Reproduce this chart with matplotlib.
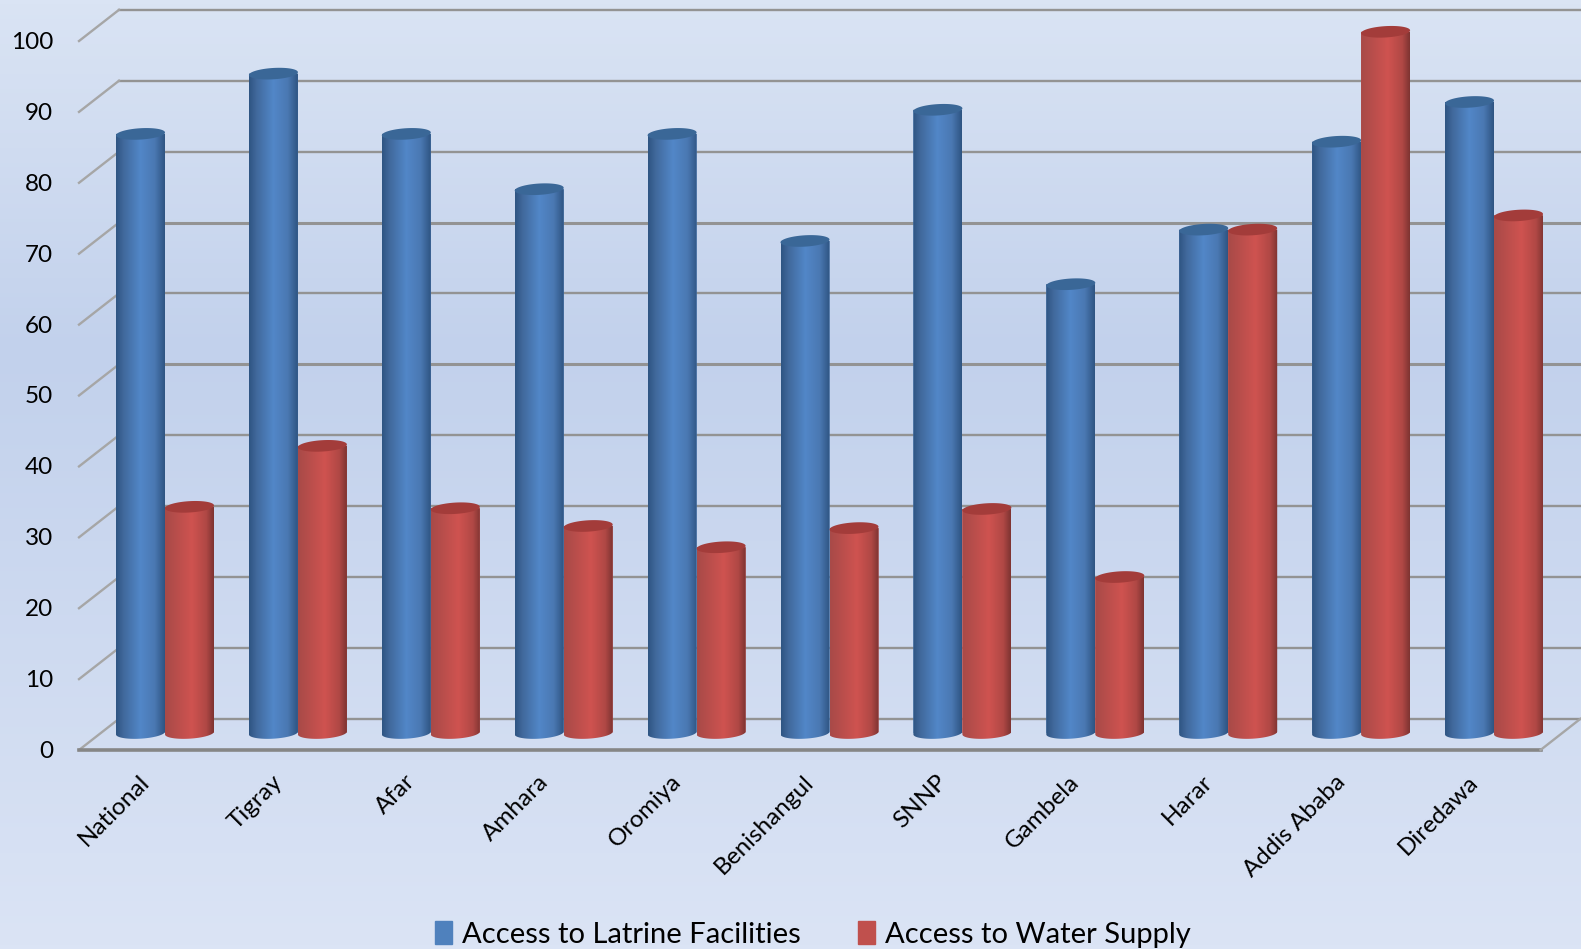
import numpy as np
import matplotlib
matplotlib.use('Agg')
import matplotlib.pyplot as plt
from matplotlib.colors import LinearSegmentedColormap
from matplotlib.patches import Patch, Polygon

regions = ['National', 'Tigray', 'Afar', 'Amhara', 'Oromiya', 'Benishangul',
           'SNNP', 'Gambela', 'Harar', 'Addis Ababa', 'Diredawa']
latrine = [84.5, 93, 84.5, 76.7, 84.5, 69.4, 87.9, 63.3, 71, 83.4, 89]
water = [31.9, 40.5, 31.7, 29.2, 26.2, 28.9, 31.6, 22, 71, 98.9, 73]
y_ticks = list(range(0, 101, 10))

plt.rcParams['font.family'] = ['Lato', 'DejaVu Sans']

W, H = 1581, 949
fig = plt.figure(figsize=(W / 100, H / 100), dpi=100)
ax = fig.add_axes([0, 0, 1, 1])
ax.set_axis_off()

# pixel scale of the chart: group centre 0 sits at x=165, spacing 132.9, value 0 at y=733
xlim = (-165 / 132.9, (W - 165) / 132.9)
ylim = ((733 - H) / 7.09, 733 / 7.09)

# background
bg = LinearSegmentedColormap.from_list('bg', [(0, '#dae4f4'), (0.37, '#c2d1ec'), (1, '#dbe4f5')])
ax.imshow(np.linspace(0, 1, 256).reshape(-1, 1), cmap=bg, aspect='auto',
          extent=(xlim[0], xlim[1], ylim[0], ylim[1]), origin='upper', zorder=0)

# walls of the fake 3d box
front_l, back_l, front_r, back_r = -0.647, -0.346, 10.35, 10.65
front_dy, back_dy = -2.4, 2.0
for v in y_ticks:
    lw = 2.2 if v in (50, 70) else 1.7
    ax.plot([back_l, xlim[1]], [v + back_dy, v + back_dy], color='#939393', lw=lw, zorder=1)
    ax.plot([front_l, back_l], [v + front_dy, v + back_dy], color='#a6a6a6', lw=1.7, zorder=1)
    ax.text(-0.843, v + front_dy - 0.2, str(v), ha='right', va='center', fontsize=17.5, color='#000000')
ax.plot([front_l, front_r], [front_dy, front_dy], color='#868686', lw=2.6, zorder=1)
ax.plot([front_r, back_r], [front_dy, back_dy], color='#a6a6a6', lw=1.7, zorder=1)

blue_cm = LinearSegmentedColormap.from_list('b', [(0, '#2f5583'), (0.15, '#41699c'), (0.5, '#5287c8'),
                                                  (0.8, '#4a78b2'), (1, '#2f5583')])
red_cm = LinearSegmentedColormap.from_list('r', [(0, '#a84a48'), (0.55, '#cf5350'), (0.85, '#b04845'),
                                                 (1, '#7f3432')])
width = 49 / 132.9
cap_h = 0.8
tilt = 0.2


def cylinder(xc, v, cmap, cap, z):
    t = np.linspace(0, 2 * np.pi, 80)
    ex = np.cos(t) * width / 2
    ey = cap_h * np.sin(t) + tilt * np.cos(t)
    # outline: top edge straight, bottom follows the lower half of the ellipse
    low = np.sin(t) <= 0
    order = np.argsort(ex[low])
    outline = np.column_stack([np.r_[ex[low][order], width / 2, -width / 2] + xc,
                               np.r_[ey[low][order], v, v]])
    clip = Polygon(outline, closed=True, transform=ax.transData)
    bar = ax.bar(xc, v, width, color=cmap(0.5), zorder=z)[0]
    bar.set_clip_path(clip)
    im = ax.imshow(np.linspace(0, 1, 64).reshape(1, -1), cmap=cmap, aspect='auto',
                   extent=(xc - width / 2, xc + width / 2, -2, v), zorder=z)
    im.set_clip_path(clip)
    ax.add_patch(Polygon(np.column_stack([xc + ex, v + ey]), closed=True, color=cap, lw=0, zorder=z))


for i, (a, b) in enumerate(zip(latrine, water)):
    cylinder(i - width / 2, a, blue_cm, '#3a6797', 3)
    cylinder(i + width / 2, b, red_cm, '#a33c3a', 3.1)
    ax.text(i - 19 / 132.9, -6.4, regions[i], rotation=45, rotation_mode='anchor',
            ha='right', va='center', fontsize=17.5, color='#000000')

ax.set_xlim(xlim)
ax.set_ylim(ylim)

handles = [Patch(color='#4f81bd'), Patch(color='#c0504d')]
ax.legend(handles, ['Access to Latrine Facilities', 'Access to Water Supply'], ncol=2,
          loc='lower center', bbox_to_anchor=(0.5142, -0.014), frameon=False, fontsize=21,
          handlelength=0.57, handleheight=0.85, handletextpad=0.35, columnspacing=1.96, borderpad=0)

fig.savefig('out.png', dpi=100)
